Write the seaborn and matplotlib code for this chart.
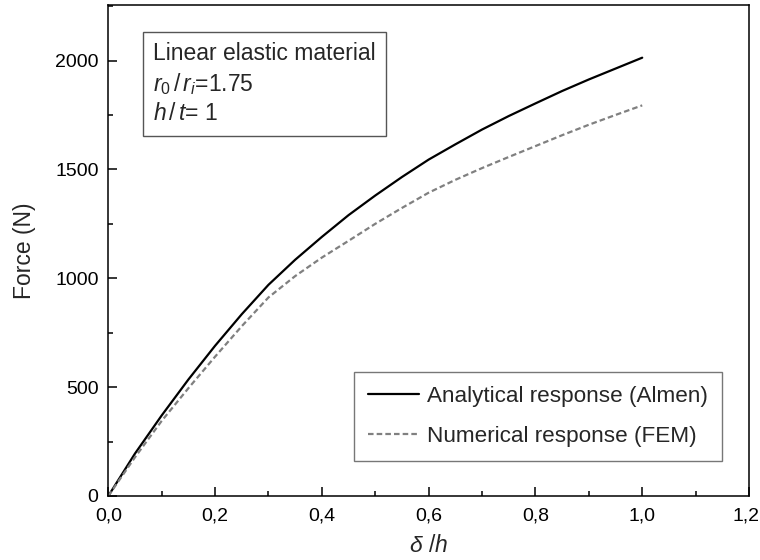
import matplotlib
matplotlib.use("Agg")
import matplotlib.pyplot as plt
import matplotlib.transforms as mtransforms
import seaborn as sns
import pandas as pd
from matplotlib.ticker import FixedLocator, MultipleLocator

delta_h = [0.0, 0.05, 0.1, 0.15, 0.2, 0.25, 0.3, 0.35, 0.4, 0.45, 0.5, 0.55,
           0.6, 0.65, 0.7, 0.75, 0.8, 0.85, 0.9, 0.95, 1.0]
force_almen = [0, 195, 370, 535, 690, 835, 970, 1085, 1190, 1290, 1380, 1465,
               1545, 1615, 1683, 1745, 1803, 1860, 1913, 1963, 2013]
force_fem = [0, 178, 345, 495, 640, 780, 912, 1010, 1095, 1172, 1250, 1323,
             1393, 1452, 1506, 1557, 1607, 1657, 1705, 1750, 1794]

x_ticks = [0.0, 0.2, 0.4, 0.6, 0.8, 1.0, 1.2]
x_ticklabels = ["0,0", "0,2", "0,4", "0,6", "0,8", "1,0", "1,2"]
y_ticks = [0, 500, 1000, 1500, 2000]
y_ticklabels = ["0", "500", "1000", "1500", "2000"]

label_almen = "Analytical response (Almen)"
label_fem = "Numerical response (FEM)"

sns.set_style("ticks")
plt.rcParams["font.family"] = ["Liberation Sans", "DejaVu Sans"]
plt.rcParams["mathtext.fontset"] = "custom"
plt.rcParams["mathtext.rm"] = "Liberation Sans"
plt.rcParams["mathtext.it"] = "Liberation Sans:italic"
plt.rcParams["mathtext.bf"] = "Liberation Sans:bold"

fig = plt.figure(figsize=(7.6, 5.6), dpi=100)
ax = fig.add_axes([108.3 / 760, 1 - 496 / 560, (749 - 108.3) / 760, (496 - 5) / 560])

df_a = pd.DataFrame({"x": delta_h, "y": force_almen})
df_f = pd.DataFrame({"x": delta_h, "y": force_fem})
sns.lineplot(data=df_a, x="x", y="y", ax=ax, color="black", lw=1.6,
             label=label_almen, sort=False)
sns.lineplot(data=df_f, x="x", y="y", ax=ax, color="#808080", lw=1.6,
             label=label_fem, sort=False)
ax.lines[1].set_dashes([2.5, 1.4])

ax.set_xlim(0, 1.2)
ax.set_ylim(0, 2255)
ax.xaxis.set_major_locator(FixedLocator(x_ticks))
ax.set_xticklabels(x_ticklabels)
ax.yaxis.set_major_locator(FixedLocator(y_ticks))
ax.set_yticklabels(y_ticklabels)
ax.xaxis.set_minor_locator(MultipleLocator(0.1))
ax.yaxis.set_minor_locator(MultipleLocator(250))
ax.tick_params(axis="both", which="both", direction="in", top=False, right=False,
               labelsize=14.0, width=1.1, colors="black")
ax.tick_params(axis="both", which="major", length=6.5)
ax.tick_params(axis="both", which="minor", length=3.3)
ax.tick_params(axis="x", which="major", pad=8)
ax.tick_params(axis="y", which="major", pad=7)
for s in ax.spines.values():
    s.set_visible(True)
    s.set_linewidth(1.1)
    s.set_color("black")

# keep the last x tick label inside the canvas
last = ax.get_xticklabels()[-1]
last.set_transform(last.get_transform() +
                   mtransforms.ScaledTranslation(-2.5 / 72, 0, fig.dpi_scale_trans))

ax.set_xlabel(r"$\delta$ /$h$", fontsize=16.5, labelpad=7)
ax.set_ylabel("Force (N)", fontsize=16.5, labelpad=14)

leg = ax.legend(loc="lower right", bbox_to_anchor=((722 - 108.3) / 640.7, (496 - 461) / 491),
                borderaxespad=0, fontsize=16.2, frameon=True, fancybox=False,
                handlelength=2.3, handletextpad=0.35, borderpad=0.62, labelspacing=0.85)
leg.get_frame().set_edgecolor("#555555")
leg.get_frame().set_linewidth(1.0)

ax.text((153 - 108.3) / 640.7, (496 - 42) / 491,
        "Linear elastic material\n" + r"$r_0\,/\,r_i$" + "=1.75\n" + r"$h\,/\,t$" + "= 1",
        transform=ax.transAxes, fontsize=16.5, va="top", ha="left", linespacing=1.3,
        bbox=dict(boxstyle="square,pad=0.45", fc="white", ec="#555555", lw=1.0))

fig.savefig("out.png", dpi=100)
